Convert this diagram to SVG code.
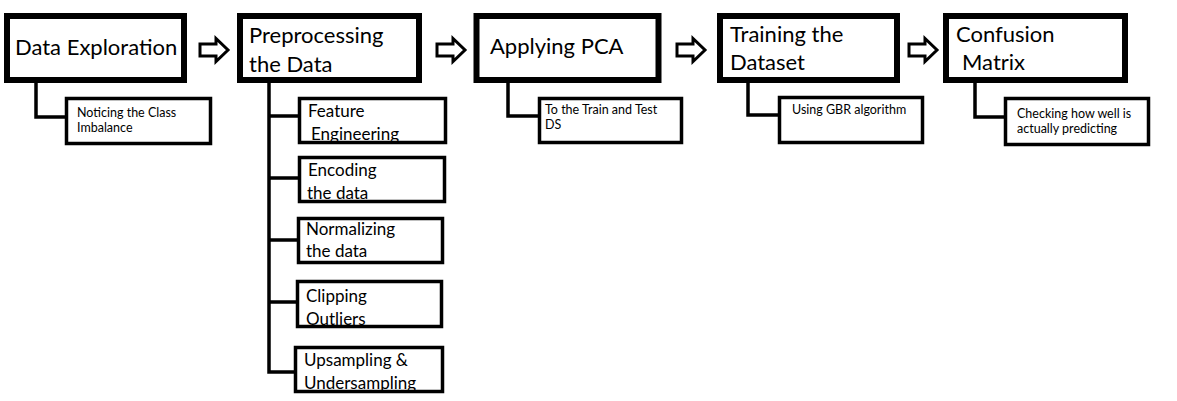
<svg xmlns="http://www.w3.org/2000/svg" width="1177" height="401" viewBox="0 0 1177 401">
<defs>
<style>
.main{fill:#fff;stroke:#000;stroke-width:6}
.sub{fill:#fff;stroke:#000;stroke-width:3.5}
.arr{fill:#fff;stroke:#000;stroke-width:3;stroke-linejoin:miter}
.con{fill:none;stroke:#000;stroke-width:3.5}
text{font-family:Lato,"Liberation Sans",sans-serif;fill:#000}
.lg{font-size:22px}
.md{font-size:17px}
.sm{font-size:12.5px}
</style>
<path id="harrow" class="arr" d="M0,-6 H16 V-11.5 L28,0 L16,11.5 V6 H0 Z"/>
</defs>
<rect width="1177" height="401" fill="#fff"/>
<g id="connectors">
<path class="con" d="M36,83 V117 H66"/>
<path class="con" d="M269,83 V372 H295 M269,116 H298 M269,178 H298 M269,240 H297 M269,302 H296"/>
<path class="con" d="M508,83 V116 H538"/>
<path class="con" d="M748,83 V115 H778"/>
<path class="con" d="M975,83 V117 H1005"/>
<use href="#harrow" x="200" y="50"/>
<use href="#harrow" x="437" y="50"/>
<use href="#harrow" x="677" y="50"/>
<use href="#harrow" x="909" y="50"/>
</g>
<g id="data-exploration">
<rect class="main" x="7" y="16" width="177" height="64"/>
<text class="lg" x="15" y="55">Data Exploration</text>
</g>
<g id="noticing">
<rect class="sub" x="66.5" y="98.5" width="144" height="45"/>
<text class="sm" x="77" y="117">Noticing the Class</text>
<text class="sm" x="77" y="132">Imbalance</text>
</g>
<g id="preprocessing">
<rect class="main" x="240" y="16" width="179" height="64"/>
<text class="lg" x="249" y="43">Preprocessing</text>
<text class="lg" x="249" y="72">the Data</text>
</g>
<g id="feature-engineering">
<rect class="sub" x="299.5" y="98.5" width="146" height="44"/>
<text class="md" x="308" y="117">Feature</text>
<text class="md" x="311" y="140">Engineering</text>
</g>
<g id="encoding">
<rect class="sub" x="299.5" y="157.5" width="145" height="44"/>
<text class="md" x="308" y="176">Encoding</text>
<text class="md" x="307" y="199">the data</text>
</g>
<g id="normalizing">
<rect class="sub" x="298.5" y="218.5" width="144" height="44"/>
<text class="md" x="306" y="235">Normalizing</text>
<text class="md" x="306" y="257">the data</text>
</g>
<g id="clipping">
<rect class="sub" x="297.5" y="281.5" width="144" height="45"/>
<text class="md" x="306" y="302">Clipping</text>
<text class="md" x="306" y="325">Outliers</text>
</g>
<g id="sampling">
<rect class="sub" x="295.5" y="347.5" width="147" height="44"/>
<text class="md" x="304" y="366">Upsampling &amp;</text>
<text class="md" x="304" y="389">Undersampling</text>
</g>
<g id="applying-pca">
<rect class="main" x="476.5" y="16" width="182" height="64"/>
<text class="lg" x="490" y="54">Applying PCA</text>
</g>
<g id="train-test">
<rect class="sub" x="539.5" y="98.5" width="142" height="44"/>
<text class="sm" x="545" y="114">To the Train and Test</text>
<text class="sm" x="545" y="129">DS</text>
</g>
<g id="training">
<rect class="main" x="720" y="16" width="177" height="64"/>
<text class="lg" x="730" y="42">Training the</text>
<text class="lg" x="730" y="70">Dataset</text>
</g>
<g id="gbr">
<rect class="sub" x="779.5" y="97.5" width="143" height="45"/>
<text class="sm" x="792" y="114">Using GBR algorithm</text>
</g>
<g id="confusion">
<rect class="main" x="946" y="16" width="179" height="64"/>
<text class="lg" x="956" y="42">Confusion</text>
<text class="lg" x="962" y="70">Matrix</text>
</g>
<g id="checking">
<rect class="sub" x="1005.5" y="98.5" width="143" height="46"/>
<text class="sm" x="1017" y="118">Checking how well is</text>
<text class="sm" x="1017" y="133">actually predicting</text>
</g>
</svg>
